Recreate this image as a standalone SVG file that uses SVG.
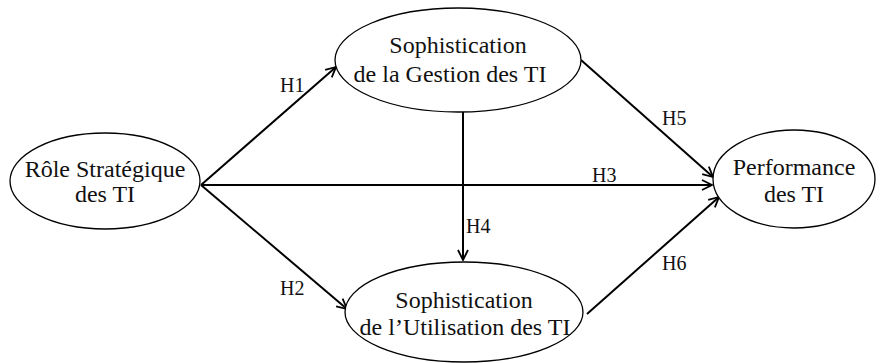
<svg xmlns="http://www.w3.org/2000/svg" width="880" height="363" viewBox="0 0 880 363">
  <defs>
    <marker id="arrow" viewBox="0 0 12 12" refX="11" refY="6" markerWidth="12" markerHeight="12" markerUnits="userSpaceOnUse" orient="auto">
      <path d="M1,1 L11,6 L1,11" fill="none" stroke="#000" stroke-width="1.8"/>
    </marker>
  </defs>
  <style>
    .node ellipse { fill: #fff; stroke: #000; stroke-width: 1.3; }
    .node text { font-size: 24px; text-anchor: middle; }
    .edge { stroke: #000; stroke-width: 2; fill: none; marker-end: url(#arrow); }
    .lbl { font-size: 20px; }
  </style>
  <rect width="880" height="363" fill="#fff"/>

  <g font-family="'Times New Roman', 'Liberation Serif', 'DejaVu Serif', serif" fill="#111">
    <g id="connectors">
      <line class="edge" x1="201" y1="185" x2="336" y2="67"/>
      <line class="edge" x1="201" y1="185" x2="712" y2="185" stroke-width="2.5"/>
      <line class="edge" x1="201" y1="185" x2="347" y2="309"/>
      <line class="edge" x1="463" y1="112" x2="463" y2="260" stroke-width="1.5"/>
      <line class="edge" x1="581" y1="60" x2="713" y2="177"/>
      <line class="edge" x1="587" y1="314" x2="719" y2="197"/>
      <text class="lbl" x="280" y="92">H1</text>
      <text class="lbl" x="280" y="295">H2</text>
      <text class="lbl" x="592" y="182">H3</text>
      <text class="lbl" x="466" y="233">H4</text>
      <text class="lbl" x="662" y="125">H5</text>
      <text class="lbl" x="662" y="270">H6</text>
    </g>

    <g id="role" class="node">
      <ellipse cx="105" cy="181" rx="95" ry="48"/>
      <text x="105" y="177">Rôle Stratégique</text>
      <text x="105" y="202">des TI</text>
    </g>

    <g id="gestion" class="node">
      <ellipse cx="458" cy="60" rx="123" ry="52"/>
      <text x="458" y="53">Sophistication</text>
      <text x="450" y="82">de la Gestion des TI</text>
    </g>

    <g id="utilisation" class="node">
      <ellipse cx="464" cy="312" rx="119" ry="50"/>
      <text x="464" y="308">Sophistication</text>
      <text x="465" y="335">de l’Utilisation des TI</text>
    </g>

    <g id="performance" class="node">
      <ellipse cx="794" cy="179" rx="81" ry="49"/>
      <text x="794" y="175">Performance</text>
      <text x="794" y="202">des TI</text>
    </g>
  </g>
</svg>
